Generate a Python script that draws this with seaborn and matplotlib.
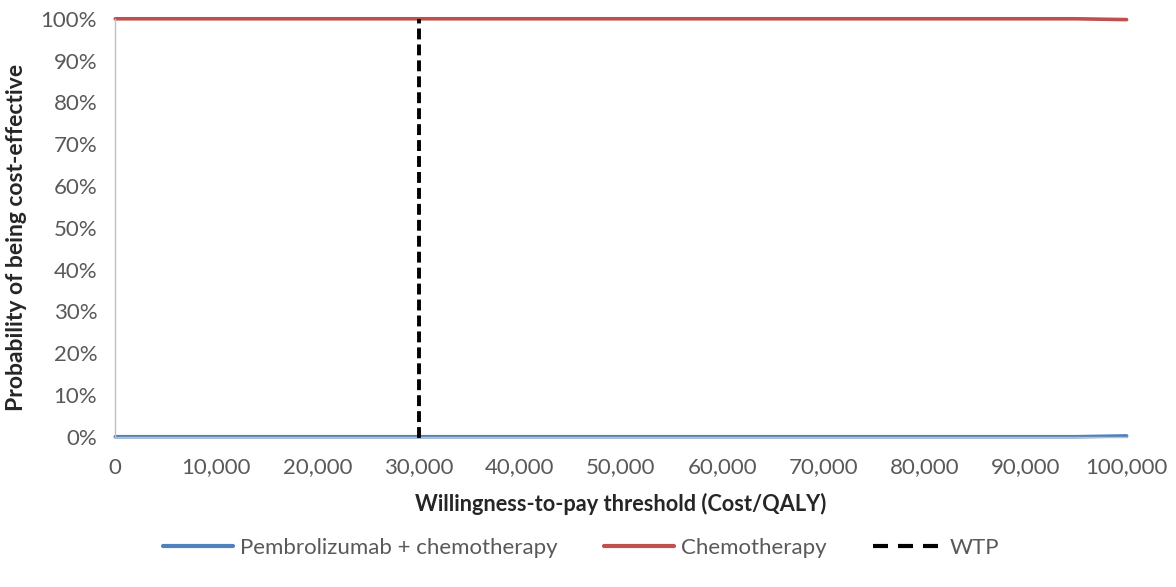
import numpy as np
import pandas as pd
import seaborn as sns
from matplotlib import pyplot as plt
from matplotlib.ticker import FuncFormatter, MultipleLocator

# Data
wtp_values = [0, 5000, 10000, 15000, 20000, 25000, 30000, 35000, 40000, 45000, 50000,
              55000, 60000, 65000, 70000, 75000, 80000, 85000, 90000, 95000, 100000]
pembro_prob = [0.0, 0.0, 0.0, 0.0, 0.0, 0.0, 0.0, 0.0, 0.0, 0.0, 0.0,
               0.0, 0.0, 0.0, 0.0, 0.0, 0.0, 0.0, 0.0, 0.0, 0.002]
chemo_prob = [1.0, 1.0, 1.0, 1.0, 1.0, 1.0, 1.0, 1.0, 1.0, 1.0, 1.0,
              1.0, 1.0, 1.0, 1.0, 1.0, 1.0, 1.0, 1.0, 1.0, 0.998]
wtp_threshold = 30000

series_names = ['Pembrolizumab + chemotherapy', 'Chemotherapy']
colors = ['#4F81BD', '#C0504D']

sns.set_style('white')
plt.rcParams['font.family'] = ['Lato', 'DejaVu Sans']

data = pd.DataFrame({
    'wtp': wtp_values * 2,
    'prob': pembro_prob + chemo_prob,
    'strategy': [series_names[0]] * len(wtp_values) + [series_names[1]] * len(wtp_values),
})

fig, ax = plt.subplots(figsize=(11.76, 5.87), dpi=100)
fig.subplots_adjust(left=0.098, right=0.958, top=0.968, bottom=0.256)

sns.lineplot(data, x='wtp', y='prob', hue='strategy', palette=colors,
             linewidth=2.6, ax=ax, legend=False)
for line in ax.lines:
    line.set_clip_on(False)
ax.plot([wtp_threshold, wtp_threshold], [-0.004, 1], color='black',
        linestyle=(0, (2.8, 1.3)), linewidth=2.8, clip_on=False, zorder=3)

ax.set_xlim(0, 100000)
ax.set_ylim(0, 1)
ax.xaxis.set_major_locator(MultipleLocator(10000))
ax.yaxis.set_major_locator(MultipleLocator(0.1))
ax.xaxis.set_major_formatter(FuncFormatter(lambda v, p: f'{v:,.0f}'))
ax.yaxis.set_major_formatter(FuncFormatter(lambda v, p: f'{v * 100:.0f}%'))

for side in ['top', 'right']:
    ax.spines[side].set_visible(False)
for side in ['left', 'bottom']:
    ax.spines[side].set_color('#BFBFBF')
    ax.spines[side].set_linewidth(1)
ax.tick_params(axis='both', which='major', direction='out', length=5, width=1,
               color='#BFBFBF', labelcolor='#595959', labelsize=16, pad=8)
ax.tick_params(axis='x', pad=10)

ax.set_xlabel('Willingness-to-pay threshold (Cost/QALY)', fontsize=15.7, fontweight='bold')
ax.set_ylabel('Probability of being cost-effective', fontsize=16.5, fontweight='bold')
ax.xaxis.set_label_coords(0.5, -0.134)
ax.yaxis.set_label_coords(-0.087, 0.478)

handles = [
    plt.Line2D([], [], color=colors[0], linewidth=3),
    plt.Line2D([], [], color=colors[1], linewidth=3),
    plt.Line2D([], [], color='black', linewidth=3, linestyle=(0, (3.6, 2.4))),
]
fig.legend(handles, series_names + ['WTP'], loc='center', bbox_to_anchor=(0.494, 0.066),
           ncol=3, frameon=False, fontsize=16, handlelength=3.15, handletextpad=0.3,
           columnspacing=2.1, labelcolor='#595959')

fig.savefig('out.png', dpi=100)
